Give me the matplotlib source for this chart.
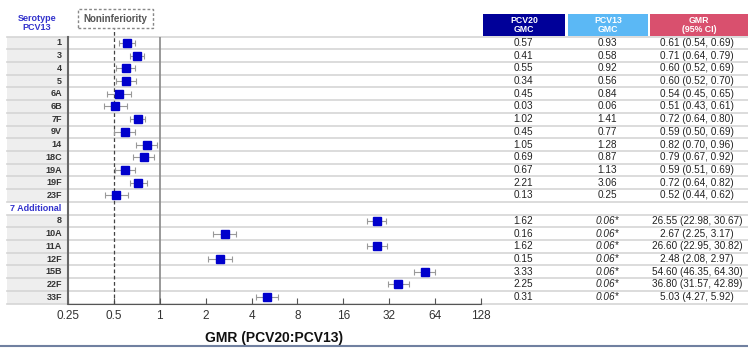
import numpy as np
import matplotlib
matplotlib.use("Agg")
from matplotlib import pyplot as plt
from matplotlib.transforms import blended_transform_factory
from matplotlib.patches import Rectangle

plt.rcParams['font.family'] = ['Liberation Sans', 'DejaVu Sans']

# data
sero13 = ['1', '3', '4', '5', '6A', '6B', '7F', '9V', '14', '18C', '19A', '19F', '23F']
sero7 = ['8', '10A', '11A', '12F', '15B', '22F', '33F']
pcv20_13 = [0.57, 0.41, 0.55, 0.34, 0.45, 0.03, 1.02, 0.45, 1.05, 0.69, 0.67, 2.21, 0.13]
pcv13_13 = [0.93, 0.58, 0.92, 0.56, 0.84, 0.06, 1.41, 0.77, 1.28, 0.87, 1.13, 3.06, 0.25]
gmr_13 = [0.61, 0.71, 0.60, 0.60, 0.54, 0.51, 0.72, 0.59, 0.82, 0.79, 0.59, 0.72, 0.52]
lo_13 = [0.54, 0.64, 0.52, 0.52, 0.45, 0.43, 0.64, 0.50, 0.70, 0.67, 0.51, 0.64, 0.44]
hi_13 = [0.69, 0.79, 0.69, 0.70, 0.65, 0.61, 0.80, 0.69, 0.96, 0.92, 0.69, 0.82, 0.62]
pcv20_7 = [1.62, 0.16, 1.62, 0.15, 3.33, 2.25, 0.31]
pcv13_7 = [0.06] * 7   # imputed values, shown with *
gmr_7 = [26.55, 2.67, 26.60, 2.48, 54.60, 36.80, 5.03]
lo_7 = [22.98, 2.25, 22.95, 2.08, 46.35, 31.57, 4.27]
hi_7 = [30.67, 3.17, 30.82, 2.97, 64.30, 42.89, 5.92]
xticks = [0.25, 0.5, 1, 2, 4, 8, 16, 32, 64, 128]

W, H = 748, 349
fig = plt.figure(figsize=(W / 100, H / 100), dpi=100)
ax = fig.add_axes([68 / W, 1 - 303.5 / H, (481 - 68) / W, (303.5 - 36.5) / H])

nrows = len(sero13) + 1 + len(sero7)
rows13 = np.arange(len(sero13))
rows7 = np.arange(len(sero7)) + len(sero13) + 1

ax.set_xscale('log', base=2)
ax.set_xlim(0.25, 128)
ax.set_ylim(nrows - 0.5, -0.5)

blue = '#0000cc'
for rows, g, lo, hi in [(rows13, gmr_13, lo_13, hi_13), (rows7, gmr_7, lo_7, hi_7)]:
    g = np.array(g); lo = np.array(lo); hi = np.array(hi)
    ax.errorbar(g, rows, xerr=[g - lo, hi - g], fmt='none', ecolor='#999999',
                elinewidth=0.8, capsize=2, capthick=0.8, zorder=3)
    ax.plot(g, rows, 's', color=blue, ms=5.6, zorder=4)

ax.axvline(1, color='#888888', lw=1.2, zorder=1)
ax.plot([0.5, 0.5], [nrows - 0.5, -1.15], color='#444444', lw=0.9,
        ls=(0, (3, 2)), clip_on=False, zorder=2)

ax.set_xticks(xticks)
ax.set_xticklabels([str(t) for t in xticks], fontsize=8.5, color='#333333')
ax.minorticks_off()
ax.set_yticks([])
ax.tick_params(axis='x', direction='in', length=4, color='#555555', pad=5)
for s in ['top', 'right']:
    ax.spines[s].set_visible(False)
ax.spines['left'].set_color('#666666')
ax.spines['left'].set_linewidth(1.5)
ax.spines['bottom'].set_color('#555555')
fig.text(274 / W, 1 - 338 / H, 'GMR (PCV20:PCV13)', ha='center', va='center',
         fontsize=10, fontweight='bold', color='#111111')

tr = blended_transform_factory(fig.transFigure, ax.transData)

# label column background
for r in list(rows13) + list(rows7):
    ax.add_patch(Rectangle((7 / W, r - 0.5), (67 - 7) / W, 1, transform=tr,
                           facecolor='#eeeeee', edgecolor='none', clip_on=False, zorder=0))

# row lines
for b in np.arange(nrows + 1) - 0.5:
    ax.plot([7 / W, 1], [b, b], transform=tr, color='#d5d5d5', lw=1.2,
            clip_on=False, zorder=0.5)

x20, x13, xg = 523 / W, 607 / W, 697 / W
tfs = 7.2
for i, r in enumerate(rows13):
    ax.text(62 / W, r, sero13[i], transform=tr, ha='right', va='center',
            fontsize=6.5, fontweight='bold', color='#333333')
    ax.text(x20, r, f'{pcv20_13[i]:.2f}', transform=tr, ha='center', va='center', fontsize=tfs, color='#222222')
    ax.text(x13, r, f'{pcv13_13[i]:.2f}', transform=tr, ha='center', va='center', fontsize=tfs, color='#222222')
    ax.text(xg, r, f'{gmr_13[i]:.2f} ({lo_13[i]:.2f}, {hi_13[i]:.2f})', transform=tr,
            ha='center', va='center', fontsize=tfs, color='#222222')
ax.text(10 / W, len(sero13), '7 Additional', transform=tr, ha='left', va='center',
        fontsize=6.5, fontweight='bold', color='#3333cc')
for i, r in enumerate(rows7):
    ax.text(62 / W, r, sero7[i], transform=tr, ha='right', va='center',
            fontsize=6.5, fontweight='bold', color='#333333')
    ax.text(x20, r, f'{pcv20_7[i]:.2f}', transform=tr, ha='center', va='center', fontsize=tfs, color='#222222')
    ax.text(x13, r, f'{pcv13_7[i]:.2f}*', transform=tr, ha='center', va='center', fontsize=tfs,
            style='italic', color='#222222')
    ax.text(xg, r, f'{gmr_7[i]:.2f} ({lo_7[i]:.2f}, {hi_7[i]:.2f})', transform=tr,
            ha='center', va='center', fontsize=tfs, color='#222222')

# headers
fig.text(37 / W, 1 - 23 / H, 'Serotype\nPCV13', ha='center', va='center', fontsize=6.5,
         fontweight='bold', color='#3333cc', linespacing=1.0)
headers = [(483, 565, '#000099', 'PCV20\nGMC'), (568, 648, '#5bb8f5', 'PCV13\nGMC'),
           (650, 748, '#d9506e', 'GMR\n(95% CI)')]
for x0, x1, c, t in headers:
    fig.patches.append(Rectangle((x0 / W, 1 - 36 / H), (x1 - x0) / W, 22 / H,
                                 transform=fig.transFigure, facecolor=c, edgecolor='none'))
    fig.text((x0 + x1) / 2 / W, 1 - 25 / H, t, ha='center', va='center', fontsize=6.3,
             fontweight='bold', color='white', linespacing=1.05)

# noninferiority box
fig.patches.append(Rectangle((78 / W, 1 - 28 / H), 75 / W, 19 / H, transform=fig.transFigure,
                             facecolor='white', edgecolor='#888888', lw=1, ls=(0, (2, 1.5))))
fig.text(115.5 / W, 1 - 18.5 / H, 'Noninferiority', ha='center', va='center', fontsize=7,
         fontweight='bold', color='#555555')

# bottom rule
fig.lines.append(plt.Line2D([0, 1], [1 - 346 / H, 1 - 346 / H], transform=fig.transFigure,
                            color='#7080a0', lw=1.5))

fig.savefig('out.png', dpi=100)
